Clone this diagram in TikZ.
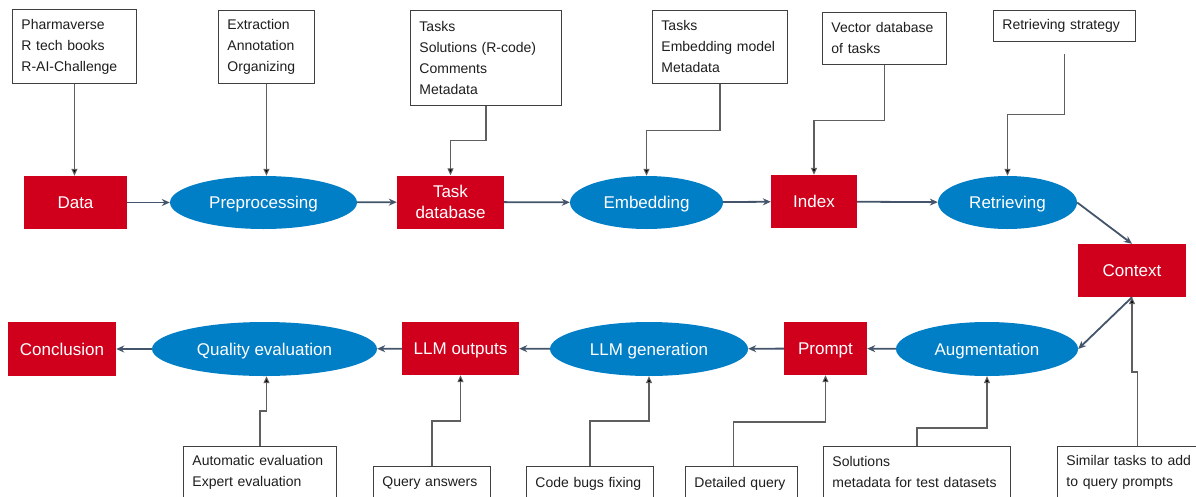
\documentclass[tikz,border=0pt]{standalone}
\usepackage{fontspec}
\setmainfont{Liberation Sans}
\usetikzlibrary{shapes.geometric,arrows.meta}
\definecolor{rbred}{RGB}{208,0,28}
\definecolor{rbblue}{RGB}{0,126,198}
\definecolor{flowc}{RGB}{68,84,106}
\definecolor{boxline}{RGB}{64,64,64}
\definecolor{feedline}{RGB}{95,95,95}
\definecolor{txt}{RGB}{30,30,30}
\tikzset{
  redbase/.style={rectangle, fill=rbred, draw=none, text=white, font=\fontsize{17}{21}\selectfont, align=center, inner sep=0pt},
  redbox/.style={redbase, text depth=0pt},
  blueell/.style={ellipse, fill=rbblue, draw=none, text=white, font=\fontsize{17}{21}\selectfont, inner sep=0pt, text depth=0pt},
  infobox/.style={rectangle, draw=boxline, line width=0.9pt, fill=white, text=txt, font=\fontsize{14}{21}\selectfont, align=left, inner xsep=9pt, inner ysep=0pt, anchor=north west},
  flowarrow/.style={draw=flowc, line width=1.8pt, -{Stealth[length=8pt,width=7pt]}},
  feed/.style={draw=feedline, line width=1.1pt, -{Triangle[length=7pt,width=6pt,fill=black]}},
}
\begin{document}
\begin{tikzpicture}[x=1pt,y=-1pt]
\useasboundingbox (0,0) rectangle (1196,496);
\clip (0,0) rectangle (1196,496);
% top row
\node[redbox, minimum width=103pt, minimum height=53pt] (data) at (75.5,202.5) {Data};
\node[blueell, minimum width=187pt, minimum height=53pt] (prep) at (263.5,202.5) {Preprocessing};
\node[redbase, minimum width=107pt, minimum height=53pt] (tdb) at (450.5,202) {Task\\database};
\node[blueell, minimum width=153pt, minimum height=53pt] (emb) at (646.5,202.5) {Embedding};
\node[redbox, minimum width=86pt, minimum height=53pt] (index) at (814,201.5) {Index};
\node[blueell, minimum width=139pt, minimum height=53pt] (retr) at (1007.5,202.5) {Retrieving};
\node[redbox, minimum width=108pt, minimum height=53pt] (ctx) at (1132,270.5) {Context};
% bottom row
\node[redbox, minimum width=108pt, minimum height=54pt] (concl) at (62,349) {Conclusion};
\node[blueell, minimum width=225pt, minimum height=54pt] (qual) at (264.5,349) {Quality evaluation};
\node[redbox, minimum width=117pt, minimum height=53pt] (llmo) at (460.5,348.5) {LLM outputs};
\node[blueell, minimum width=198pt, minimum height=54pt] (llmg) at (649,349) {LLM generation};
\node[redbox, minimum width=83pt, minimum height=53pt] (prompt) at (825.5,348.5) {Prompt};
\node[blueell, minimum width=182pt, minimum height=54pt] (aug) at (987,349) {Augmentation};
% top info boxes
\node[infobox, text width=106pt, minimum height=74pt] (i1) at (12,9) {Pharmaverse\\R tech books\\R-AI-Challenge};
\node[infobox, text width=78pt, minimum height=73pt] (i2) at (218,10) {Extraction\\Annotation\\Organizing};
\node[infobox, text width=133pt, minimum height=95pt] (i3) at (410,10) {Tasks\\Solutions (R-code)\\Comments\\Metadata};
\node[infobox, text width=117pt, minimum height=73pt] (i4) at (652,10) {Tasks\\Embedding model\\Metadata};
\node[infobox, text width=106pt, minimum height=52pt] (i5) at (822,12) {Vector database\\of tasks};
\node[infobox, text width=124pt, minimum height=31pt] (i6) at (993,10) {Retrieving strategy};
% bottom info boxes
\node[infobox, text width=135pt, minimum height=52pt] (b1) at (183,446) {Automatic evaluation\\Expert evaluation};
\node[infobox, text width=99pt, minimum height=34pt] (b2) at (373,466) {Query answers};
\node[infobox, text width=109pt, minimum height=34pt] (b3) at (526,466) {Code bugs fixing};
\node[infobox, text width=94pt, minimum height=34pt] (b4) at (685,466) {Detailed query};
\node[infobox, text width=169pt, minimum height=52pt] (b5) at (823,446) {Solutions\\metadata for test datasets};
\node[infobox, text width=142pt, minimum height=52pt] (b6) at (1057,446) {Similar tasks to add\\to query prompts};
% flow arrows
\draw[flowarrow] (data) -- (prep);
\draw[flowarrow] (prep) -- (tdb);
\draw[flowarrow] (tdb) -- (emb);
\draw[flowarrow] (emb) -- (index);
\draw[flowarrow] (index) -- (retr);
\draw[flowarrow] (retr.east) -- (ctx.north);
\draw[flowarrow] (ctx.south) -- (aug.east);
\draw[flowarrow] (aug) -- (prompt);
\draw[flowarrow] (prompt) -- (llmg);
\draw[flowarrow] (llmg) -- (llmo);
\draw[flowarrow] (llmo) -- (qual);
\draw[flowarrow] (qual) -- (concl);
% feed connectors (top)
\draw[feed] (i1.south) -- (i1.south |- data.north);
\draw[feed] (i2.south) -- (i2.south |- prep.north);
\draw[feed] (i3.south) -- ++(0,35) -| (tdb.north);
\draw[feed] (i4.south) -- ++(0,47) -| (emb.north);
\draw[feed] (i5.south) -- ++(0,56) -| (index.north);
\coordinate (i6s) at ([yshift=-12pt]i6.south);
\draw[feed] (i6s) -- ++(0,61) -| (retr.north);
% feed connectors (bottom)
\draw[feed] (b1.north) -- ++(0,-35) -| ([xshift=2pt]qual.south);
\draw[feed] (b2.north) -- ++(0,-45) -| (llmo.south);
\draw[feed] (b3.north) -- ++(0,-45) -| (llmg.south);
\draw[feed] ([xshift=-8pt]b4.north) -- ++(0,-44) -| (prompt.south);
\draw[feed] (b5.north) -- ++(0,-18) -| (aug.south);
\draw[feed] (b6.north) -- ++(0,-74) -| (ctx.south);
\end{tikzpicture}
\end{document}
